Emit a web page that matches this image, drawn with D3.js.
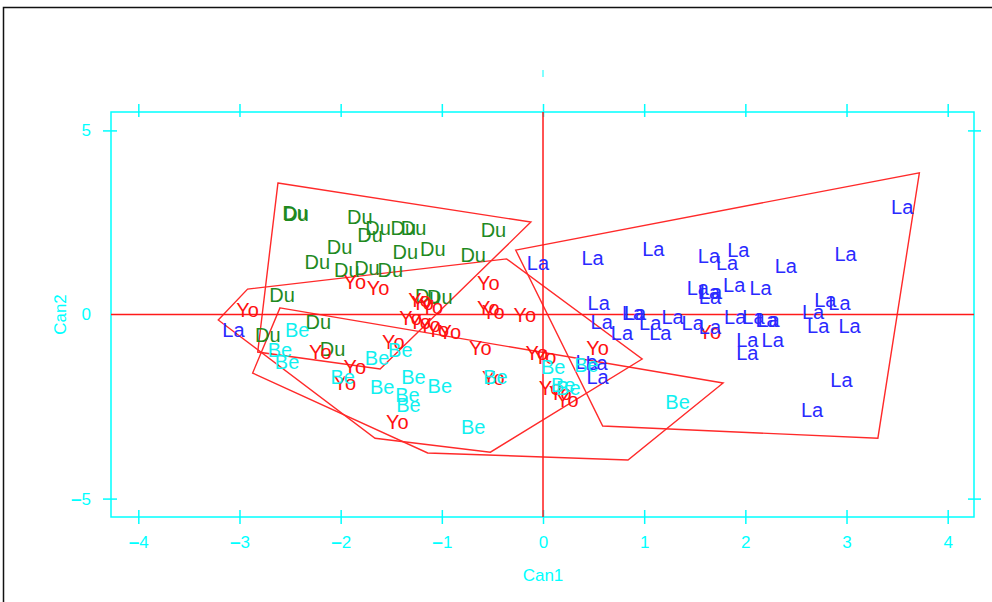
<!DOCTYPE html>
<html>
<head>
<meta charset="utf-8">
<script src="https://cdn.jsdelivr.net/npm/d3@7"></script>
<style>
    body { margin: 0; background: #fff; }
    svg { display: block; font-family: "Liberation Sans", Arial, Helvetica, sans-serif; }
    .lab { text-anchor: middle; font-size: 20px; }
</style>
</head>
<body>
<svg id="chart" width="992" height="602" viewBox="0 0 992 602"></svg>
<script>
// canonical scores (Can1, Can2) for each group
const duPts = [[-2.45,2.76],[-2.44,2.73],[-1.81,2.65],[-1.63,2.35],[-1.38,2.35],[-1.28,2.35],[-1.71,2.16],
    [-0.49,2.30],[-2.01,1.83],[-1.36,1.70],[-1.09,1.78],[-0.69,1.62],[-2.23,1.43],[-1.94,1.21],[-1.74,1.26],
    [-1.51,1.21],[-2.58,0.53],[-1.14,0.50],[-1.02,0.48],[-2.22,-0.20],[-2.72,-0.56],[-2.08,-0.94]];
const laPts = [[3.55,2.92],[-0.05,1.40],[0.49,1.54],[1.09,1.78],[1.64,1.59],[1.93,1.75],[1.82,1.40],[2.40,1.32],
    [2.99,1.64],[1.53,0.72],[1.64,0.61],[1.66,0.61],[1.65,0.48],[1.89,0.80],[2.15,0.72],[0.55,0.31],[2.79,0.39],
    [2.93,0.31],[2.67,0.07],[0.89,0.04],[0.91,0.04],[1.06,-0.23],[1.28,-0.07],[1.48,-0.23],[0.58,-0.20],
    [0.78,-0.50],[1.16,-0.50],[1.65,-0.34],[1.90,-0.07],[2.08,-0.07],[2.21,-0.15],[2.23,-0.15],[2.72,-0.31],
    [3.03,-0.31],[2.02,-0.69],[2.27,-0.69],[2.02,-1.05],[2.95,-1.78],[2.66,-2.60],[0.54,-1.70],[0.43,-1.29],
    [0.53,-1.32],[-3.06,-0.42]];
const yoPts = [[-0.54,0.86],[-0.54,0.18],[-0.49,0.07],[-0.18,-0.01],[-1.19,0.31],[-1.10,0.20],[-1.31,-0.10],
    [-1.22,-0.20],[-1.12,-0.29],[-1.04,-0.42],[-0.92,-0.48],[-0.62,-0.91],[-0.06,-1.05],[-1.48,-0.75],
    [-1.86,0.88],[-1.63,0.72],[-2.92,0.12],[-1.22,0.39],[-2.20,-1.02],[-1.86,-1.43],[-1.96,-1.86],[-1.44,-2.92],
    [0.54,-0.91],[0.02,-1.15],[1.65,-0.48],[0.17,-2.13],[0.24,-2.32],[-0.49,-1.73],[0.07,-2.00]];
const bePts = [[-2.43,-0.42],[-2.60,-0.96],[-2.53,-1.29],[-1.98,-1.70],[-1.64,-1.18],[-1.41,-0.96],[-1.59,-1.97],
    [-1.28,-1.70],[-1.02,-1.94],[-1.34,-2.19],[-1.33,-2.46],[-0.69,-3.06],[-0.47,-1.70],[0.10,-1.43],[0.43,-1.37],
    [0.20,-1.92],[0.25,-2.00],[1.33,-2.38]];

// hull outlines as drawn in the picture
const duHull = [[-2.62,3.57],[-0.12,2.51],[-1.61,-1.48],[-2.82,-1.02]];
const yoHull = [[-3.21,-0.15],[-2.92,0.69],[-0.36,1.51],[0.98,-1.21],[-0.52,-3.74],[-1.66,-3.36]];
const beHull = [[-2.60,0.18],[1.78,-1.86],[0.84,-3.95],[-1.14,-3.76],[-2.87,-1.59]];
const laHull = [[-0.27,1.75],[3.72,3.85],[3.31,-3.36],[0.59,-3.03]];

const groups = [
    {name: "Du", pts: duPts, color: "#1f8a1f"},
    {name: "Yo", pts: yoPts, color: "#ff1010"},
    {name: "La", pts: laPts, color: "#2a2aff"},
    {name: "Be", pts: bePts, color: "#10f0f0"}
];
const hulls = [duHull, yoHull, beHull, laHull];

const xTicks = [-4,-3,-2,-1,0,1,2,3,4];
const yTicks = [-5,0,5];
const xTitle = "Can1", yTitle = "Can2";

const svg = d3.select("#chart");
const cyan = "#00ffff";
const boxL = 111, boxR = 974, boxT = 112, boxB = 517;

const x = d3.scaleLinear().domain([-4.27, 4.26]).range([boxL, boxR]);
const y = d3.scaleLinear().domain([-5.5, 5.5]).range([boxB, boxT]);

// outer frame
svg.append("path")
    .attr("d", `M3.5,610 L3.5,7.5 L1000,7.5`)
    .attr("fill", "none").attr("stroke", "#111").attr("stroke-width", 1.5);

// stray mark above the plot
svg.append("line")
    .attr("x1", x(0)).attr("x2", x(0)).attr("y1", 70).attr("y2", 77)
    .attr("stroke", cyan).attr("stroke-width", 1);

// plot box
svg.append("rect")
    .attr("x", boxL).attr("y", boxT).attr("width", boxR - boxL).attr("height", boxB - boxT)
    .attr("fill", "none").attr("stroke", cyan).attr("stroke-width", 1.5);

// axes, ticks straddle the box edges
function fixTicks(g, a1, a2, attr1, attr2) {
    g.select(".domain").remove();
    g.selectAll(".tick line").attr(attr1, a1).attr(attr2, a2)
        .attr("stroke", cyan).attr("stroke-width", 1.5);
}
// the old device draws a heavy minus sign
function minusLabel(sel) {
    sel.each(function (d) {
        const t = d3.select(this).text(null);
        if (d < 0) t.append("tspan").attr("font-weight", "bold").attr("font-size", 19).text("\u2013");
        t.append("tspan").text(Math.abs(d));
    });
}

const gBottom = svg.append("g").attr("transform", `translate(0,${boxB})`)
    .call(d3.axisBottom(x).tickValues(xTicks).tickSize(7).tickPadding(12));
fixTicks(gBottom, -7, 7, "y1", "y2");
gBottom.selectAll(".tick text").attr("fill", cyan).attr("font-size", 17)
    .attr("font-family", "Liberation Sans, Arial, sans-serif").call(minusLabel);

const gTop = svg.append("g").attr("transform", `translate(0,${boxT})`)
    .call(d3.axisTop(x).tickValues(xTicks).tickSize(8).tickFormat(""));
fixTicks(gTop, -8, 5, "y1", "y2");

const gLeft = svg.append("g").attr("transform", `translate(${boxL},0)`)
    .call(d3.axisLeft(y).tickValues(yTicks).tickSize(8).tickPadding(12));
fixTicks(gLeft, -8, 6, "x1", "x2");
gLeft.selectAll(".tick").filter(d => d === 0).select("line").remove();
gLeft.selectAll(".tick text").attr("fill", cyan).attr("font-size", 17)
    .attr("font-family", "Liberation Sans, Arial, sans-serif").call(minusLabel);

const gRight = svg.append("g").attr("transform", `translate(${boxR},0)`)
    .call(d3.axisRight(y).tickValues(yTicks.filter(d => d !== 0)).tickSize(7).tickFormat(""));
fixTicks(gRight, -6, 7, "x1", "x2");

svg.append("text")
    .attr("x", x(0)).attr("y", 581)
    .attr("text-anchor", "middle").attr("font-size", 17).attr("fill", cyan)
    .text(xTitle);
svg.append("text")
    .attr("transform", `translate(66,${y(0)}) rotate(-90)`)
    .attr("text-anchor", "middle").attr("font-size", 17).attr("fill", cyan)
    .text(yTitle);

// hulls
const hullLine = d3.line().x(d => x(d[0])).y(d => y(d[1])).curve(d3.curveLinearClosed);
svg.append("g").selectAll("path")
    .data(hulls)
    .enter()
    .append("path")
    .attr("d", hullLine)
    .attr("fill", "none")
    .attr("stroke", "#ff2a2a")
    .attr("stroke-width", 1.4);

// reference lines through the origin
svg.append("line")
    .attr("x1", boxL).attr("x2", boxR).attr("y1", y(0)).attr("y2", y(0))
    .attr("stroke", "#ff1a1a").attr("stroke-width", 1.5);
svg.append("line")
    .attr("x1", x(0)).attr("x2", x(0)).attr("y1", boxT).attr("y2", boxB)
    .attr("stroke", "#ff1a1a").attr("stroke-width", 1.5);

// point labels
groups.forEach(gr => {
    svg.append("g")
        .selectAll("text")
        .data(gr.pts)
        .enter()
        .append("text")
        .attr("class", "lab")
        .attr("x", d => x(d[0]))
        .attr("y", d => y(d[1]))
        .attr("dy", "0.36em")
        .attr("fill", gr.color)
        .text(gr.name);
});
</script>
</body>
</html>
